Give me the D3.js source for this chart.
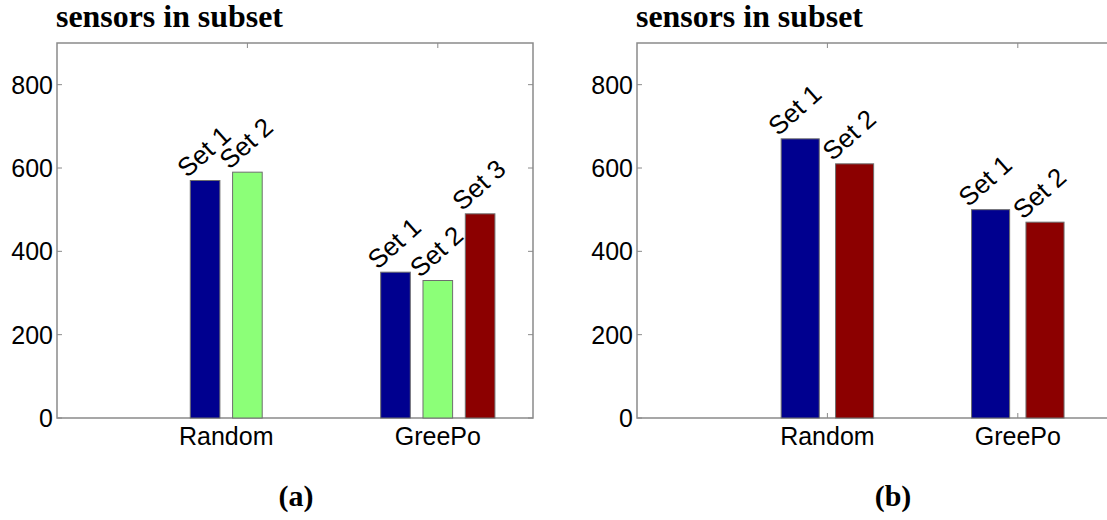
<!DOCTYPE html>
<html>
<head>
<meta charset="utf-8">
<script src="https://cdn.jsdelivr.net/npm/d3@7"></script>
<style>
  body { margin: 0; background: #fff; }
  svg { display: block; }
</style>
</head>
<body>
<div id="svganchor"></div>
<script>
/*
------------------------------
DATA: values
------------------------------
*/
const categories = ["Random", "GreePo"];
const seriesNames = ["Set 1", "Set 2", "Set 3"];

// panel (a): three sets, Random has no Set 3
const aSet1 = [570, 350];
const aSet2 = [590, 330];
const aSet3 = [0, 490];

// panel (b): two sets
const bSet1 = [670, 500];
const bSet2 = [610, 470];

const yTicks = [0, 200, 400, 600, 800];
const titleText = "sensors in subset";
const panelLabels = ["(a)", "(b)"];

const blue = "#00008f", green = "#8cff78", red = "#8c0000";

let width = 1107, height = 520;

const svg = d3.select("#svganchor")
    .append("svg")
    .attr("width", width)
    .attr("height", height);

/*
------------------------------
METHOD: draw one panel (matlab style grouped bar)
------------------------------
*/
function drawPanel(opts) {
    const g = svg.append("g");
    const left = opts.left;
    const top = 43, bottom = 418;

    const x = d3.scaleLinear().domain([0, 2.5]).range([left, left + 476]);
    const y = d3.scaleLinear().domain([0, 900]).range([bottom, top]);

    const n = opts.series.length;
    const slot = 1 / (n + 1.5);     // matlab group spacing
    const bw = slot * 0.7;

    // frame
    g.append("rect")
        .attr("x", x(0)).attr("y", y(900))
        .attr("width", x(2.5) - x(0)).attr("height", y(0) - y(900))
        .attr("fill", "none").attr("stroke", "#8a8a8a").attr("stroke-width", 1.5);

    // y ticks (inside, both sides)
    yTicks.forEach(t => {
        g.append("line").attr("x1", x(0)).attr("x2", x(0) + 5)
            .attr("y1", y(t)).attr("y2", y(t)).attr("stroke", "#8a8a8a");
        g.append("line").attr("x1", x(2.5)).attr("x2", x(2.5) - 5)
            .attr("y1", y(t)).attr("y2", y(t)).attr("stroke", "#8a8a8a");
        g.append("text")
            .attr("x", x(0) - 4).attr("y", y(t) + 9)
            .attr("text-anchor", "end")
            .attr("font-family", "Liberation Sans, Arial, sans-serif")
            .attr("font-size", "25px")
            .text(t);
    });

    // x ticks top and bottom
    categories.forEach((c, i) => {
        g.append("line").attr("x1", x(i + 1)).attr("x2", x(i + 1))
            .attr("y1", y(900)).attr("y2", y(900) + 5).attr("stroke", "#8a8a8a");
        g.append("line").attr("x1", x(i + 1)).attr("x2", x(i + 1))
            .attr("y1", y(0)).attr("y2", y(0) - 5).attr("stroke", "#8a8a8a");
    });

    // bars
    opts.series.forEach((vals, s) => {
        const off = (s - (n - 1) / 2) * slot;
        vals.forEach((v, i) => {
            if (!v) return;
            const cx = i + 1 + off;
            g.append("rect")
                .attr("x", x(cx - bw / 2))
                .attr("y", y(v))
                .attr("width", x(cx + bw / 2) - x(cx - bw / 2))
                .attr("height", y(0) - y(v))
                .attr("fill", opts.colors[s])
                .attr("stroke", "#6e6e6e")
                .attr("stroke-width", 1);
            const lx = x(cx - bw / 2) - 3, ly = y(v) - 2;
            g.append("text")
                .attr("transform", "translate(" + lx + "," + ly + ") rotate(-42)")
                .attr("font-family", "Liberation Sans, Arial, sans-serif")
                .attr("font-size", "26px")
                .text(seriesNames[s]);
        });
    });

    // category labels, centred on the bars that are present
    categories.forEach((c, i) => {
        const present = [];
        opts.series.forEach((vals, s) => {
            if (vals[i]) present.push(i + 1 + (s - (n - 1) / 2) * slot);
        });
        g.append("text")
            .attr("x", x(d3.mean(present)))
            .attr("y", 445)
            .attr("text-anchor", "middle")
            .attr("font-family", "Liberation Sans, Arial, sans-serif")
            .attr("font-size", "25px")
            .text(c);
    });

    // title above the axes
    g.append("text")
        .attr("x", left - 1).attr("y", 27)
        .attr("font-family", "Liberation Serif, Times New Roman, serif")
        .attr("font-weight", "bold")
        .attr("font-size", "31px")
        .attr("textLength", 227)
        .attr("lengthAdjust", "spacingAndGlyphs")
        .text(titleText);

    // panel letter
    g.append("text")
        .attr("x", opts.labelX).attr("y", 506)
        .attr("text-anchor", "middle")
        .attr("font-family", "Liberation Serif, Times New Roman, serif")
        .attr("font-weight", "bold")
        .attr("font-size", "30px")
        .text(opts.label);
}

drawPanel({ left: 57, series: [aSet1, aSet2, aSet3], colors: [blue, green, red], label: panelLabels[0], labelX: 296 });
drawPanel({ left: 637, series: [bSet1, bSet2], colors: [blue, red], label: panelLabels[1], labelX: 893 });
</script>
</body>
</html>
